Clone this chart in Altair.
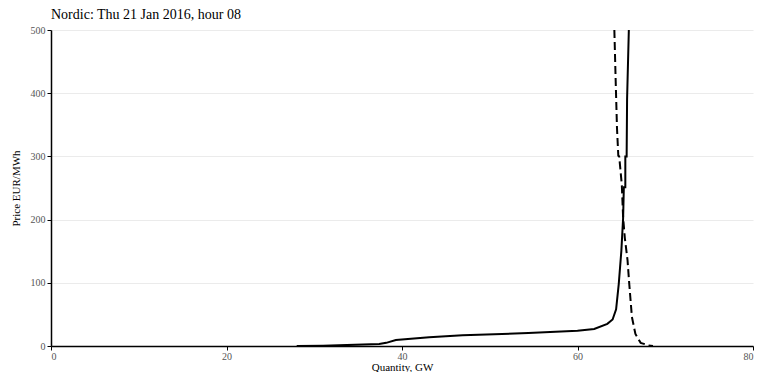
import altair as alt
import pandas as pd

supply_q = [28, 31, 33.7, 37.4, 38.2, 39.3, 43.1, 46.9, 54.4, 60, 61.9, 63.4, 64.0, 64.4, 64.7, 65.0, 65.2, 65.28, 65.45, 65.45, 65.6, 65.65, 65.85]
supply_p = [0, 0.5, 1.5, 3, 5, 9.5, 14, 17, 20.5, 24, 27, 35, 42, 58, 98, 151, 203, 251, 251, 300, 300, 390, 500]

demand_q = [64.2, 64.35, 64.5, 64.65, 64.75, 65.05, 65.2, 65.4, 65.7, 65.9, 66.2, 66.6, 67.2, 68.1, 68.6]
demand_p = [500, 420, 345, 301, 300, 255, 203, 170, 136, 98, 46, 19, 5, 1, 0]

rows = []
for i, (q, p) in enumerate(zip(supply_q, supply_p)):
    rows.append({"curve": "Supply", "order": i, "q": q, "p": p})
for i, (q, p) in enumerate(zip(demand_q, demand_p)):
    rows.append({"curve": "Demand", "order": i, "q": q, "p": p})
df = pd.DataFrame(rows)

font = "Liberation Serif"

base = alt.Chart(df).encode(
    x=alt.X("q:Q", title="Quantity, GW",
            scale=alt.Scale(domain=[0, 80], nice=False),
            axis=alt.Axis(values=[0, 20, 40, 60, 80], grid=False)),
    y=alt.Y("p:Q", title="Price EUR/MWh",
            scale=alt.Scale(domain=[0, 500], nice=False),
            axis=alt.Axis(values=[0, 100, 200, 300, 400, 500], grid=True)),
    order="order:Q",
)

supply = base.transform_filter(alt.datum.curve == "Supply").mark_line(
    color="black", strokeWidth=2, clip=True)
demand = base.transform_filter(alt.datum.curve == "Demand").mark_line(
    color="black", strokeWidth=2, strokeDash=[8, 4], clip=True)

chart = (supply + demand).properties(
    width=702, height=316,
    title=alt.TitleParams("Nordic: Thu 21 Jan 2016, hour 08", anchor="start",
                          font=font, fontSize=14, fontWeight="normal",
                          color="black", offset=3, frame="group"),
    padding={"left": 2, "top": 0, "right": 0, "bottom": 0},
).configure_view(stroke=None).configure_axis(
    labelFont=font, titleFont=font, labelFontSize=10, titleFontSize=11,
    titleFontWeight="normal", labelColor="#555555", titleColor="black",
    domainColor="black", domainWidth=1.5, tickColor="black", tickSize=4,
    gridColor="#ebebeb", gridWidth=1, labelPadding=2,
).configure_axisY(titlePadding=9).configure_axisX(titlePadding=0, labelPadding=1)

chart.save("out.html", embed_options={"renderer": "svg", "actions": False})
